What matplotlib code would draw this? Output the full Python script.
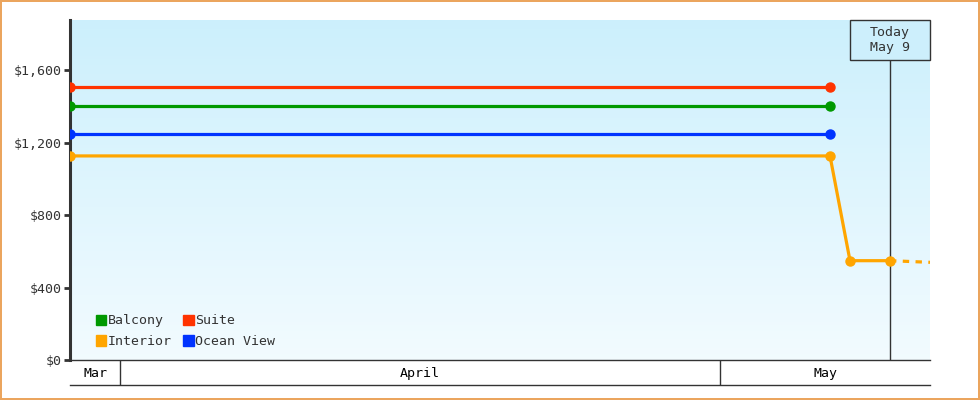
import matplotlib
matplotlib.use('Agg')
import matplotlib.pyplot as plt
import matplotlib.dates as mdates
import numpy as np
from datetime import datetime

plt.rcParams['font.family'] = ['DejaVu Sans Mono']

# prices by date (points drawn at mid-day)
dates = [datetime(2024, 3, 29, 12), datetime(2024, 5, 6, 12)]
suite = [1505, 1505]
balcony = [1403, 1403]
ocean_view = [1245, 1245]
interior_dates = [datetime(2024, 3, 29, 12), datetime(2024, 5, 6, 12),
                  datetime(2024, 5, 7, 12), datetime(2024, 5, 9, 12)]
interior = [1126, 1126, 548, 548]
forecast_dates = [datetime(2024, 5, 9, 12), datetime(2024, 5, 11, 12)]
interior_forecast = [548, 539]

today = datetime(2024, 5, 9, 12)
x_start = datetime(2024, 3, 29, 12)
x_end = datetime(2024, 5, 11, 12)
months = [('Mar', datetime(2024, 3, 29, 12), datetime(2024, 4, 1)),
          ('April', datetime(2024, 4, 1), datetime(2024, 5, 1)),
          ('May', datetime(2024, 5, 1), datetime(2024, 5, 11, 12))]
yticks = [0, 400, 800, 1200, 1600]

c_suite = '#ff3300'
c_balcony = '#009900'
c_ocean = '#0033ff'
c_interior = '#ffa500'
dark = '#333333'

fig = plt.figure(figsize=(9.8, 4), dpi=100)
fig.patch.set_facecolor('white')
fig.patch.set_edgecolor('#eba55e')
fig.patch.set_linewidth(1.5)

ax = fig.add_axes([70/980, 40/400, 860/980, 340/400])
ax.set_xlim(mdates.date2num(x_start), mdates.date2num(x_end))
ax.set_ylim(0, 1876)

# gradient background
grad = np.linspace(0, 1, 256).reshape(-1, 1)
top = np.array([0.80, 0.94, 0.99])
bot = np.array([0.95, 0.985, 1.0])
img = top * (1 - grad[..., None]) + bot * grad[..., None]
img = np.repeat(img, 2, axis=1)
ax.imshow(img, extent=[0, 1, 0, 1], transform=ax.transAxes, aspect='auto', zorder=0)

kw = dict(lw=2.3, marker='o', ms=6.5, zorder=3)
ax.plot(dates, suite, color=c_suite, label='Suite', **kw)
ax.plot(dates, balcony, color=c_balcony, label='Balcony', **kw)
ax.plot(dates, ocean_view, color=c_ocean, label='Ocean View', **kw)
ax.plot(interior_dates, interior, color=c_interior, label='Interior', **kw)
ax.plot(forecast_dates, interior_forecast, color=c_interior, lw=2.3, ls=(0, (2, 2)), zorder=3)

# today marker: box 80px wide, 40px tall at the top right
box_y0 = 1 - 40 / 340
ax.axvline(today, ymin=0, ymax=box_y0, color=dark, lw=1, zorder=2)
ax.add_patch(plt.Rectangle((1 - 80 / 860, box_y0), 80 / 860, 40 / 340, transform=ax.transAxes,
                           fc='#cdeffc', ec=dark, lw=1, zorder=4, clip_on=False))
ax.text(1 - 40 / 860, 1 - 20 / 340, 'Today\nMay 9', transform=ax.transAxes, ha='center',
        va='center', fontsize=9.5, color=dark, linespacing=1.25, zorder=5)

for s in ['top', 'right']:
    ax.spines[s].set_visible(False)
ax.spines['left'].set_linewidth(2.2)
ax.spines['left'].set_color(dark)
ax.spines['bottom'].set_linewidth(1)
ax.spines['bottom'].set_color(dark)
ax.set_xticks([])
ax.set_yticks(yticks)
ax.set_yticklabels(['${:,}'.format(v) for v in yticks])
ax.tick_params(axis='y', length=4, width=2, color=dark, labelsize=9.5, labelcolor=dark, pad=2)

h, l = ax.get_legend_handles_labels()
order = ['Balcony', 'Interior', 'Suite', 'Ocean View']
handles = [plt.Rectangle((0, 0), 1, 1, color=h[l.index(n)].get_color()) for n in order]
ax.legend(handles, order, ncol=2, loc='lower left', bbox_to_anchor=(0.016, 0.0),
          frameon=False, fontsize=9.5, handlelength=0.8, handleheight=0.8,
          handletextpad=0.1, columnspacing=0.9, labelspacing=0.6, labelcolor=dark)

# month band
bx = fig.add_axes([70/980, 15/400, 860/980, 25/400], sharex=ax)
bx.set_ylim(0, 1)
bx.set_facecolor('none')
for s in ['top', 'right', 'left']:
    bx.spines[s].set_visible(False)
bx.spines['bottom'].set_color(dark)
bx.spines['bottom'].set_linewidth(1)
bx.set_xticks([])
bx.set_yticks([])
for name, a, b in months:
    mid = (mdates.date2num(a) + mdates.date2num(b)) / 2
    bx.text(mid, 0.45, name, ha='center', va='center', fontsize=9.5, color='black')
    if name != 'Mar':
        bx.axvline(a, color=dark, lw=1)

fig.savefig('out.png', dpi=100, edgecolor=fig.get_edgecolor())
